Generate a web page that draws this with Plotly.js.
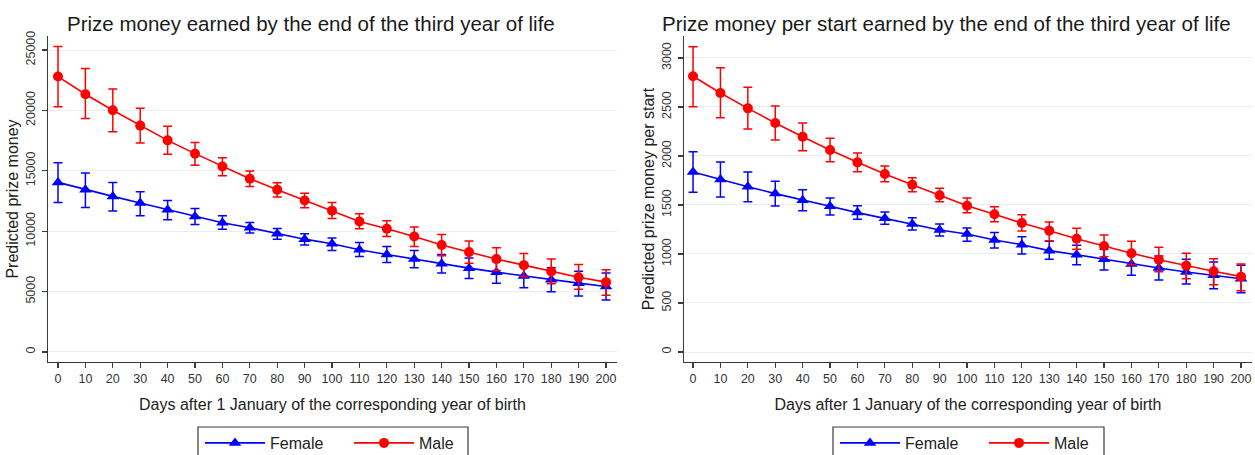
<!DOCTYPE html>
<html>
<head>
<meta charset="utf-8">
<script src="https://cdn.plot.ly/plotly-3.0.1.min.js"></script>
<style>html,body{margin:0;padding:0;background:#fff;overflow:hidden;}#chart{width:1255px;height:455px;}</style>
</head>
<body>
<div id="chart"></div>
<script>
// ---- Data ----
const days = [0,10,20,30,40,50,60,70,80,90,100,110,120,130,140,150,160,170,180,190,200];

// Left panel: predicted prize money
const femaleMoney   = [14040,13430,12880,12330,11780,11220,10700,10280,9780,9340,8960,8460,8070,7690,7300,6940,6610,6300,5970,5700,5420];
const femaleMoneyLo = [12380,11970,11670,11280,10950,10560,10170,9840,9340,8850,8400,7900,7400,6970,6530,6080,5700,5310,4980,4640,4310];
const femaleMoneyHi = [15670,14820,14040,13270,12550,11880,11280,10720,10220,9780,9430,9060,8730,8400,8070,7790,7520,7240,6970,6690,6530];
const maleMoney     = [22800,21340,20010,18740,17520,16420,15360,14340,13430,12540,11700,10800,10200,9560,8850,8270,7690,7190,6660,6190,5780];
const maleMoneyLo   = [20300,19320,18240,17300,16360,15450,14590,13700,12830,11940,11050,10200,9550,8730,7960,7350,6740,6240,5640,5200,4700];
const maleMoneyHi   = [25300,23470,21780,20170,18680,17350,16080,14980,14010,13150,12380,11450,10860,10340,9730,9180,8620,8150,7690,7240,6800];

// Right panel: predicted prize money per start
const femalePerStart   = [1837,1759,1687,1616,1548,1487,1422,1364,1306,1245,1204,1143,1095,1034,993,946,898,857,816,783,748];
const femalePerStartLo = [1629,1582,1534,1490,1442,1398,1354,1303,1245,1184,1129,1061,1000,946,891,837,783,735,694,646,605];
const femalePerStartHi = [2044,1939,1837,1741,1656,1571,1493,1429,1370,1306,1265,1218,1177,1129,1088,1048,1013,980,946,918,885];
const malePerStart     = [2813,2643,2486,2337,2197,2061,1935,1816,1707,1599,1493,1405,1316,1238,1156,1082,1007,942,881,823,769];
const malePerStartLo   = [2503,2391,2276,2163,2054,1942,1840,1738,1636,1534,1421,1330,1235,1136,1048,973,891,820,748,687,626];
const malePerStartHi   = [3115,2901,2701,2510,2337,2180,2031,1898,1779,1670,1571,1483,1400,1326,1262,1194,1129,1068,1007,952,898];

const leftYTicks  = [0,5000,10000,15000,20000,25000];
const rightYTicks = [0,500,1000,1500,2000,2500,3000];

const titleLeft  = "Prize money earned by the end of the third year of life";
const titleRight = "Prize money per start earned by the end of the third year of life";
const xTitle = "Days after 1 January of the corresponding year of birth";
const yTitleLeft = "Predicted prize money";
const yTitleRight = "Predicted prize money per start";

// ---- Build traces ----
const FONT = "Liberation Sans, Arial, Helvetica, sans-serif";
const BLUE = "#0000ff", RED = "#ff0000";

function errArr(v, lo, hi) {
  return {type:'data', symmetric:false,
    array: hi.map((h,i)=>h - v[i]), arrayminus: v.map((c,i)=>c - lo[i]),
    thickness:1.5, width:4.5};
}
function trace(name, y, lo, hi, color, symbol, size, xa, ya, leg) {
  const e = errArr(y, lo, hi); e.color = color;
  return {x: days, y: y, name: name, type:'scatter', mode:'lines+markers',
    xaxis: xa, yaxis: ya, legend: leg, showlegend: true,
    line:{color:color, width:1.6}, marker:{color:color, symbol:symbol, size:size},
    error_y: e};
}
const data = [
  trace("Female", femaleMoney, femaleMoneyLo, femaleMoneyHi, BLUE, 'triangle-up', 11, 'x', 'y', 'legend'),
  trace("Male", maleMoney, maleMoneyLo, maleMoneyHi, RED, 'circle', 10, 'x', 'y', 'legend'),
  trace("Female", femalePerStart, femalePerStartLo, femalePerStartHi, BLUE, 'triangle-up', 11, 'x2', 'y2', 'legend2'),
  trace("Male", malePerStart, malePerStartLo, malePerStartHi, RED, 'circle', 10, 'x2', 'y2', 'legend2')
];

const W = 1255, H = 455;
const yDom = [1 - 362/H, 1 - 36/H];
const axisCommon = {showline:true, linecolor:'#3a3a3a', linewidth:1.2, ticks:'outside', ticklen:5,
  tickcolor:'#3a3a3a', tickwidth:1.2, zeroline:false, automargin:false, fixedrange:true,
  tickfont:{family:FONT, size:12.5, color:'#333'}};
function xAxis(dom, range, anchor) {
  return Object.assign({}, axisCommon, {domain:dom, range:range, anchor:anchor,
    tickvals: days, showgrid:false,
    title:{text:xTitle, font:{family:FONT, size:16, color:'#222'}, standoff:13}});
}
function yAxis(dom, range, ticks, title, anchor) {
  return Object.assign({}, axisCommon, {domain:dom, range:range, anchor:anchor,
    tickvals: ticks, tickformat:'d', tickangle:-90, showgrid:true, gridcolor:'#e6eef1', gridwidth:1,
    ticklabelstandoff:2,
    title:{text:title, font:{family:FONT, size:16, color:'#222'}, standoff:1}});
}

const legendCommon = {orientation:'h', xanchor:'left', yanchor:'top', xref:'container', yref:'container',
  bgcolor:'rgba(0,0,0,0)', borderwidth:0,
  font:{family:FONT, size:16, color:'#222'}, itemwidth:60, entrywidth:74,
  entrywidthmode:'pixels', itemclick:false, itemdoubleclick:false};

function boxShape(x0, x1) {
  return {type:'rect', xref:'paper', yref:'paper', x0:x0/W, x1:x1/W, y0:1-462/H, y1:1-427/H,
    line:{color:'#3a3a3a', width:1.2}, fillcolor:'rgba(0,0,0,0)', layer:'above'};
}

const layout = {
  width:W, height:H, margin:{l:0,r:0,t:0,b:0,autoexpand:false}, paper_bgcolor:'#fff', plot_bgcolor:'#fff',
  xaxis: xAxis([48/W, 617/W], [-3.65, 204], 'y'),
  yaxis: yAxis(yDom, [-830, 26160], leftYTicks, yTitleLeft, 'x'),
  xaxis2: xAxis([684/W, 1252/W], [-3.3, 204], 'y2'),
  yaxis2: yAxis(yDom, [-102, 3224], rightYTicks, yTitleRight, 'x2'),
  legend: Object.assign({}, legendCommon, {x:200/W, y:1-426/H}),
  legend2: Object.assign({}, legendCommon, {x:835/W, y:1-426/H}),
  shapes: [boxShape(198, 468), boxShape(833, 1104)],
  annotations: [
    {text:titleLeft, xref:'paper', yref:'paper', x:311/W, y:1-23/H, xanchor:'center', yanchor:'middle',
     showarrow:false, font:{family:FONT, size:20.5, color:'#1a1a1a'}},
    {text:titleRight, xref:'paper', yref:'paper', x:946/W, y:1-23/H, xanchor:'center', yanchor:'middle',
     showarrow:false, font:{family:FONT, size:20.5, color:'#1a1a1a'}}
  ],
  showlegend:true
};

Plotly.newPlot('chart', data, layout, {staticPlot:true, displayModeBar:false});
</script>
</body>
</html>
